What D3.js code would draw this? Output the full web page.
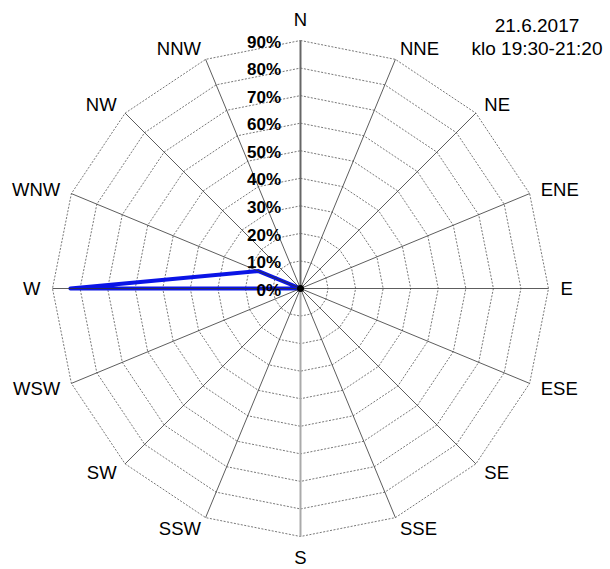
<!DOCTYPE html>
<html lang="fi">
<head>
    <meta charset="UTF-8">
    <script src="https://cdn.jsdelivr.net/npm/d3@7"></script>
    <style>
        body { margin: 0; background: #fff; }
        text { font-family: "Liberation Sans", Arial, sans-serif; }
    </style>
</head>
<body>
    <svg id="svg1" width="610" height="569"></svg>
    <script>
        // wind directions and share of observations (%)
        let directions = ["N", "NNE", "NE", "ENE", "E", "ESE", "SE", "SSE", "S", "SSW", "SW", "WSW", "W", "WNW", "NW", "NNW"];
        let values = [0, 0, 0, 0, 0, 0, 0, 0, 0, 0, 0, 0, 83.5, 16.5, 0, 0];
        let ringTicks = [10, 20, 30, 40, 50, 60, 70, 80, 90];
        let tickLabels = ["0%", "10%", "20%", "30%", "40%", "50%", "60%", "70%", "80%", "90%"];
        let titleLines = ["21.6.2017", "klo 19:30-21:20"];

        let svg = d3.select("#svg1");
        let cx = 300.5, cy = 288.5;
        let r = d3.scaleLinear().domain([0, 90]).range([0, 248]);
        let angle = d3.scaleBand().domain(directions).range([0, 2 * Math.PI]).align(0);

        function pt(dir, v) {
            let a = angle(dir);
            return [cx + r(v) * Math.sin(a), cy - r(v) * Math.cos(a)];
        }

        let g = svg.append("g");

        // dotted rings
        ringTicks.forEach(t => {
            g.append("polygon")
                .attr("points", directions.map(d => pt(d, t).join(",")).join(" "))
                .attr("fill", "none")
                .attr("stroke", "#555")
                .attr("stroke-width", 0.8)
                .attr("stroke-dasharray", "2,1.5");
        });

        // data polygon
        g.append("polygon")
            .attr("points", directions.map((d, i) => pt(d, values[i]).join(",")).join(" "))
            .attr("fill", "none")
            .attr("stroke", "#0a14e6")
            .attr("stroke-width", 4)
            .attr("stroke-linejoin", "round");

        // spokes
        directions.forEach(d => {
            let p = pt(d, 90);
            let isN = d == "N", isS = d == "S";
            g.append("line")
                .attr("x1", cx).attr("y1", cy)
                .attr("x2", p[0]).attr("y2", p[1])
                .attr("stroke", isN ? "#666" : isS ? "#aaa" : "#333")
                .attr("stroke-width", isN || isS ? 2 : 0.8);
        });

        g.append("circle")
            .attr("cx", cx).attr("cy", cy)
            .attr("r", 3.5)
            .attr("fill", "#000");

        // direction labels, anchored away from the rose
        let labelR = 260;
        directions.forEach(d => {
            let a = angle(d);
            let sx = Math.sin(a), cy_ = Math.cos(a);
            let anchor = Math.abs(sx) < 0.01 ? "middle" : sx > 0 ? "start" : "end";
            let t = g.append("text")
                .attr("text-anchor", anchor)
                .attr("font-size", 18.5)
                .attr("fill", "#000")
                .text(d);
            if (d == "N") {
                t.attr("x", cx).attr("y", cy - 263);
            } else if (d == "S") {
                t.attr("x", cx).attr("y", cy + 262).attr("dy", "0.72em");
            } else {
                t.attr("x", cx + labelR * sx)
                    .attr("y", cy - labelR * cy_)
                    .attr("dy", "0.36em");
            }
        });

        // percentage labels along N axis
        tickLabels.forEach((t, i) => {
            g.append("text")
                .attr("x", 281)
                .attr("y", cy - r(i * 10) + 1)
                .attr("dy", "0.36em")
                .attr("text-anchor", "end")
                .attr("font-size", 17)
                .attr("font-weight", "bold")
                .attr("fill", "#000")
                .text(t);
        });

        titleLines.forEach((t, i) => {
            svg.append("text")
                .attr("x", 537)
                .attr("y", 32 + i * 23)
                .attr("text-anchor", "middle")
                .attr("font-size", 19)
                .attr("fill", "#000")
                .text(t);
        });
    </script>
</body>
</html>
